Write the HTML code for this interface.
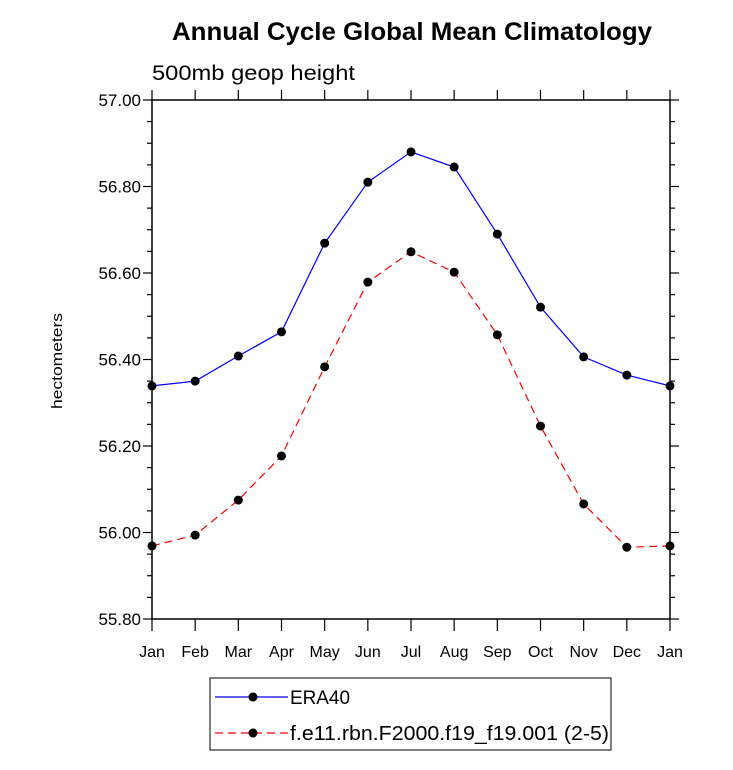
<!DOCTYPE html>
<html><head><meta charset="utf-8"><style>body{margin:0;background:#fff}svg{display:block;font-family:"Liberation Sans",sans-serif}</style></head>
<body>
<svg id="chart" width="733" height="770" xmlns="http://www.w3.org/2000/svg">
<text x="172" y="40" font-size="25" font-weight="bold" textLength="480" lengthAdjust="spacingAndGlyphs">Annual Cycle Global Mean Climatology</text>
<text x="152" y="80" font-size="21" textLength="203" lengthAdjust="spacingAndGlyphs">500mb geop height</text>
<text transform="translate(62,361) rotate(-90)" text-anchor="middle" font-size="15" textLength="96" lengthAdjust="spacingAndGlyphs">hectometers</text>
<g id="axes"></g>
<g id="series"></g>
<g>
<rect x="210" y="678" width="401" height="72" fill="none" stroke="#000" stroke-width="1"/>
<g>
<line x1="215" y1="697" x2="288" y2="697" stroke="#00f" stroke-width="1.2"/>
<circle cx="253" cy="697" r="4.5" fill="#000"/>
<text x="290" y="704" font-size="19" textLength="60" lengthAdjust="spacingAndGlyphs">ERA40</text></g>
<g>
<line x1="215" y1="733" x2="288" y2="733" stroke="#f00" stroke-width="1.2" stroke-dasharray="8,5"/>
<circle cx="253" cy="733" r="4.5" fill="#000"/>
<text x="290" y="740" font-size="20" textLength="319" lengthAdjust="spacingAndGlyphs">f.e11.rbn.F2000.f19_f19.001 (2-5)</text></g>
</g>
</svg>
<script>
const months=["Jan","Feb","Mar","Apr","May","Jun","Jul","Aug","Sep","Oct","Nov","Dec","Jan"];
const yTicks=["55.80","56.00","56.20","56.40","56.60","56.80","57.00"];
const era40=[56.339,56.350,56.408,56.464,56.669,56.810,56.880,56.845,56.690,56.521,56.406,56.364,56.339];
const model=[55.969,55.994,56.075,56.177,56.383,56.579,56.649,56.602,56.457,56.246,56.066,55.966,55.969];
const NS="http://www.w3.org/2000/svg";
const L=152,R=670,T=100,B=619,ymin=55.8,ymax=57.0;
const xs=i=>L+(R-L)*i/(months.length-1);
const ys=v=>B-(v-ymin)/(ymax-ymin)*(B-T);
function mk(p,t,a){const e=document.createElementNS(NS,t);for(const k in a)e.setAttribute(k,a[k]);p.appendChild(e);return e;}
const ax=document.getElementById('axes');
const frame=mk(ax,'rect',{x:L,y:T,width:R-L,height:B-T,fill:'none',stroke:'#000','stroke-width':1.5});


months.forEach((m,i)=>{const x=xs(i);
mk(ax,'line',{x1:x,y1:B,x2:x,y2:B+12,stroke:'#000','stroke-width':1.2});
mk(ax,'line',{x1:x,y1:T,x2:x,y2:T-10,stroke:'#000','stroke-width':1.2});
const t=mk(ax,'text',{x:x,y:B+38,'text-anchor':'middle','font-size':16});t.textContent=m;

});
for(let v=ymin;v<=ymax+1e-9;v+=0.05){const y=ys(v);const maj=Math.abs(Math.round(v*5)-v*5)<1e-6;const len=maj?9:5;
mk(ax,'line',{x1:L,y1:y,x2:L-len,y2:y,stroke:'#000','stroke-width':1.2});
mk(ax,'line',{x1:R,y1:y,x2:R+len,y2:y,stroke:'#000','stroke-width':1.2});}
yTicks.forEach(s=>{const t=mk(ax,'text',{x:L-11,y:ys(parseFloat(s))+6,'text-anchor':'end','font-size':17});t.textContent=s;

});
const sg=document.getElementById('series');
function draw(d,col,dash,name){const g=mk(sg,'g',{});


mk(g,'polyline',{points:d.map((v,i)=>xs(i)+','+ys(v)).join(' '),fill:'none',stroke:col,'stroke-width':1.2,'stroke-dasharray':dash});
d.forEach((v,i)=>{const c=mk(g,'circle',{cx:xs(i),cy:ys(v),r:4.5,fill:'#000'});

});}
draw(era40,'#00f','none','era40-series');
draw(model,'#f00','8,5','model-series');
</script>
</body></html>
